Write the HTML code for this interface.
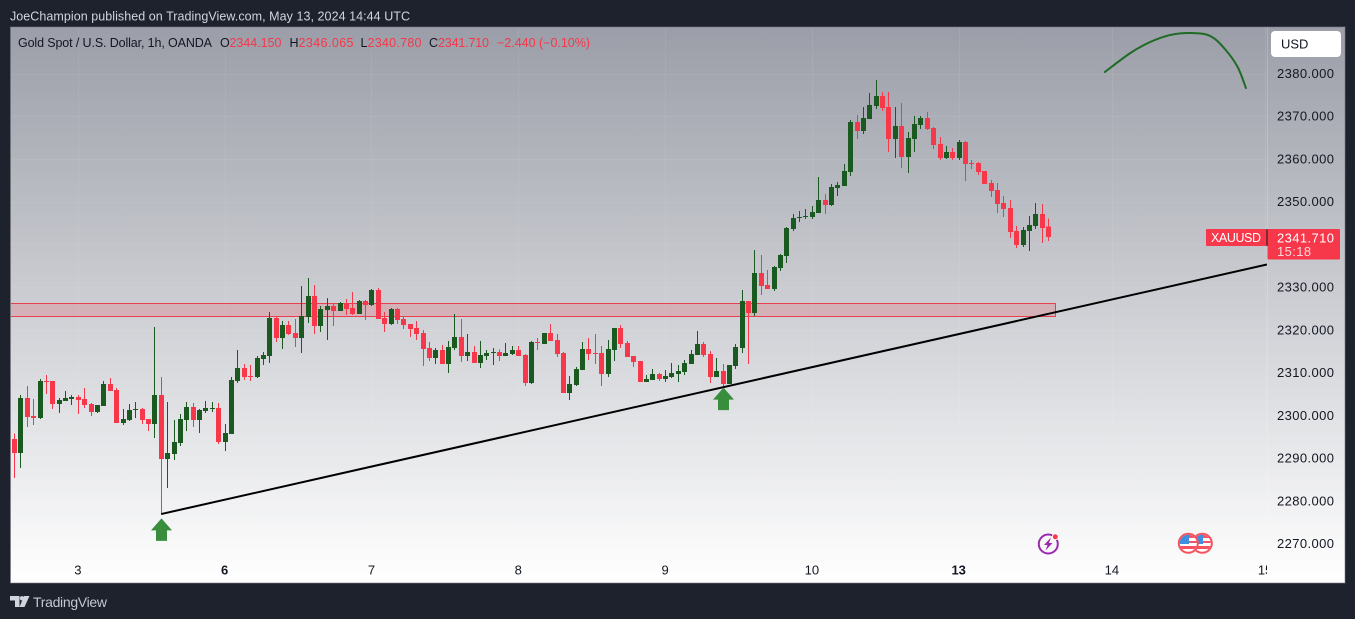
<!DOCTYPE html>
<html lang="en">
<head>
<meta charset="utf-8">
<title>XAUUSD 1h chart</title>
<style>
  html, body { margin: 0; padding: 0; background: #1e222d; }
  body { width: 1355px; height: 619px; overflow: hidden; }
  svg { display: block; font-family: "Liberation Sans", Arial, sans-serif; }
</style>
</head>
<body>
<svg id="chart" xmlns="http://www.w3.org/2000/svg" width="1355" height="619" viewBox="0 0 1355 619">
  <defs>
    <linearGradient id="bgGrad" x1="0" y1="0" x2="0" y2="1">
      <stop offset="0" stop-color="#9b9ea8"/>
      <stop offset="1" stop-color="#ffffff"/>
    </linearGradient>
    <clipPath id="plotClip"><rect x="11" y="27" width="1256" height="532"/></clipPath>
    <clipPath id="axisClip"><rect x="11" y="559" width="1256" height="24"/></clipPath>
    <clipPath id="flagClip1"><circle cx="1188.3" cy="543.3" r="8.5"/></clipPath>
    <clipPath id="flagClip2"><circle cx="1202.3" cy="543.3" r="8.5"/></clipPath>
  </defs>

  <text x="10" y="20.5" font-size="12.5" fill="#d1d4dc" textLength="400" lengthAdjust="spacing">JoeChampion published on TradingView.com, May 13, 2024 14:44 UTC</text>

  <rect x="10.5" y="27" width="1334.5" height="556" fill="url(#bgGrad)" stroke="#787b86" stroke-opacity="0.6" stroke-width="1"/>

  <g id="grid"></g>
  <line x1="1267.5" y1="27" x2="1267.5" y2="583" stroke="#ffffff" stroke-opacity="0.18"/>
  <g id="zone" clip-path="url(#plotClip)"></g>
  <g id="candles" clip-path="url(#plotClip)" shape-rendering="crispEdges"></g>
  <g id="drawings" clip-path="url(#plotClip)"></g>
  <g id="priceAxis"></g>
  <g id="timeAxis" clip-path="url(#axisClip)"></g>

  <g font-size="12.5">
    <text x="18" y="47" fill="#131722" textLength="194" lengthAdjust="spacing">Gold Spot / U.S. Dollar, 1h, OANDA</text>
    <text x="220" y="47" fill="#131722">O</text>
    <text x="229.5" y="47" fill="#f7374a" textLength="52" lengthAdjust="spacing">2344.150</text>
    <text x="289.5" y="47" fill="#131722">H</text>
    <text x="298.5" y="47" fill="#f7374a" textLength="55" lengthAdjust="spacing">2346.065</text>
    <text x="360.5" y="47" fill="#131722">L</text>
    <text x="367.5" y="47" fill="#f7374a" textLength="54" lengthAdjust="spacing">2340.780</text>
    <text x="429" y="47" fill="#131722">C</text>
    <text x="438" y="47" fill="#f7374a" textLength="51" lengthAdjust="spacing">2341.710</text>
    <text x="497" y="47" fill="#f7374a" textLength="93" lengthAdjust="spacing">−2.440 (−0.10%)</text>
  </g>

  <g>
    <rect x="1271" y="31" width="70" height="26" rx="4" fill="#ffffff"/>
    <text x="1281" y="48.5" font-size="13" fill="#131722">USD</text>
  </g>

  <g id="lastPrice"></g>

  <g>
    <circle cx="1048.3" cy="544" r="9.5" fill="none" stroke="#9c27b0" stroke-width="2"/>
    <polygon points="1051,537.5 1044,545 1047.5,545 1045.5,550.5 1052.5,543 1049,543" fill="#9c27b0"/>
    <circle cx="1055.3" cy="536.8" r="3" fill="#f7374a" stroke="#ffffff" stroke-width="1"/>
  </g>

  <g>
    <circle cx="1202.3" cy="543.3" r="9.5" fill="#ffffff" stroke="#f7525f" stroke-width="2"/>
    <g clip-path="url(#flagClip2)">
      <rect x="1192" y="534" width="20" height="4" fill="#f7525f"/>
      <rect x="1192" y="541" width="20" height="2" fill="#f7525f"/>
      <rect x="1192" y="546" width="20" height="3" fill="#f7525f"/>
      <rect x="1192" y="534" width="11" height="10" fill="#3d8fe0"/>
    </g>
  </g>
  <g>
    <circle cx="1188.3" cy="543.3" r="9.5" fill="#ffffff" stroke="#f7525f" stroke-width="2"/>
    <g clip-path="url(#flagClip1)">
      <rect x="1178" y="534" width="20" height="4" fill="#f7525f"/>
      <rect x="1178" y="541" width="20" height="2" fill="#f7525f"/>
      <rect x="1178" y="546" width="20" height="3" fill="#f7525f"/>
      <rect x="1178" y="534" width="11" height="10" fill="#3d8fe0"/>
    </g>
  </g>

  <g>
    <polygon points="10,596 19.5,596 19.5,607 15,607 15,600.5 10,600.5" fill="#d1d4dc"/>
    <circle cx="22" cy="598.3" r="2.2" fill="#d1d4dc"/>
    <polygon points="24,596 29.5,596 24.5,607 19.5,607" fill="#d1d4dc"/>
    <text x="33" y="607" font-size="14" fill="#c4c7cf" textLength="74" lengthAdjust="spacing">TradingView</text>
  </g>
</svg>

<script>
const priceTicks = [2380, 2370, 2360, 2350, 2330, 2320, 2310, 2300, 2290, 2280, 2270];
const gridPrices = [2380, 2370, 2360, 2350, 2340, 2330, 2320, 2310, 2300, 2290, 2280, 2270];
const dayLabels = ["3", "6", "7", "8", "9", "10", "13", "14", "15"];
const dayBars = [10, 33, 56, 79, 102, 125, 148, 172, 196];
const boldDays = ["6", "13"];

const opens = [2294.46,2291.19,2304.06,2299.85,2299.38,2308.04,2308.04,2302.65,2303.36,2303.82,
2304.29,2303.82,2302.65,2300.78,2302.19,2307.34,2305.93,2298.21,2298.91,2301.25,
2301.48,2299.14,2297.97,2304.76,2289.78,2290.95,2293.53,2298.91,2301.95,2298.91,
2301.02,2301.48,2301.72,2293.76,2295.63,2308.04,2311.08,2309.21,2308.97,2313.18,
2313.89,2322.78,2318.1,2321.14,2319.27,2318.1,2323.01,2327.93,2320.91,2324.65,
2325.59,2324.42,2326.29,2325.12,2323.71,2326.76,2325.82,2329.33,2322.78,2321.37,
2324.88,2322.54,2321.37,2320.44,2319.27,2315.76,2313.42,2315.29,2312.01,2315.76,
2318.33,2313.89,2314.82,2312.25,2313.89,2314.59,2314.82,2313.89,2314.35,2315.29,
2314.12,2307.57,2317.16,2316.69,2319.27,2317.63,2314.59,2305.23,2307.1,2310.61,
2315.52,2314.59,2314.59,2309.67,2315.29,2320.44,2316.93,2313.89,2312.72,2307.8,
2308.27,2309.67,2308.5,2308.97,2309.67,2310.14,2312.01,2314.12,2316.69,2314.35,
2308.97,2310.38,2307.33,2311.55,2315.77,2326.77,2323.96,2333.32,2330.51,2329.57,
2334.49,2337.3,2343.61,2346.19,2346.42,2346.42,2347.36,2350.4,2349.23,2353.21,
2353.68,2356.95,2368.65,2366.55,2369.35,2372.39,2374.74,2372.16,2364.67,2367.72,
2360.46,2364.67,2367.95,2369.59,2367.25,2363.5,2360.23,2361.63,2360.23,2363.97,
2359.06,2359.06,2357.19,2354.38,2352.74,2349.7,2348.53,2343.15,2339.87,2343.15,
2344.32,2347.12,2344.15];

const highs = [2295.79,2304.76,2306.87,2303.82,2308.5,2309.44,2308.04,2304.06,2305.7,2304.76,
2304.76,2306.4,2302.89,2302.42,2308.04,2308.74,2306.4,2301.48,2302.65,2303.12,
2301.72,2299.14,2320.67,2308.97,2303.12,2298.91,2300.31,2303.12,2302.89,2301.48,
2303.36,2303.12,2302.89,2297.97,2308.97,2315.29,2312.01,2311.78,2313.89,2314.82,
2324.18,2323.25,2322.08,2322.08,2322.54,2330.27,2332.14,2330.5,2325.59,2327.46,
2326.05,2326.52,2327.22,2328.86,2326.99,2326.99,2329.56,2329.8,2324.18,2325.12,
2325.12,2323.01,2321.37,2322.08,2319.97,2317.16,2315.76,2316.46,2317.4,2323.71,
2322.54,2319.03,2316.23,2317.4,2315.29,2315.76,2315.45,2316.93,2316.23,2316.23,
2314.35,2317.4,2318.1,2319.27,2321.37,2319.03,2314.82,2309.21,2311.31,2317.16,
2318.1,2319.03,2316.23,2317.63,2320.44,2321.14,2317.4,2313.89,2312.72,2309.44,
2310.84,2309.91,2310.61,2312.25,2311.78,2312.95,2315.29,2319.74,2317.16,2315.06,
2313.42,2312.01,2311.78,2316.69,2329.34,2326.77,2338.7,2337.53,2334.02,2334.96,
2337.76,2344.08,2347.12,2347.83,2348.29,2349,2355.78,2351.8,2354.14,2354.61,
2358.82,2369.12,2370.29,2372.16,2375.44,2378.48,2375.67,2375.67,2372.16,2373.1,
2366.31,2370.06,2370.06,2370.99,2367.48,2365.14,2363.04,2362.57,2364.44,2364.21,
2359.76,2359.29,2357.19,2355.08,2354.38,2351.34,2350.4,2344.32,2344.08,2346.66,
2349.7,2349.46,2346.065];

const lows = [2285.34,2287.68,2297.27,2297.74,2299.14,2304.99,2301.48,2300.55,2303.36,2302.42,
2300.31,2301.72,2299.85,2300.55,2302.19,2305.7,2298.21,2297.74,2298.68,2299.38,
2297.97,2296.34,2294.7,2276.91,2283,2289.55,2292.83,2296.34,2297.27,2295.87,
2300.55,2300.78,2293.29,2291.66,2295.63,2307.57,2308.27,2308.04,2308.74,2311.78,
2312.25,2317.16,2315.52,2318.8,2315.99,2314.59,2321.61,2319.03,2319.5,2317.63,
2320.91,2324.42,2323.48,2323.48,2323.71,2322.31,2325.59,2322.54,2319.5,2321.14,
2321.37,2320.2,2318.33,2317.63,2311.55,2312.72,2312.01,2312.01,2309.91,2315.29,
2312.48,2312.72,2312.25,2311.08,2312.95,2311.78,2312.72,2313.89,2314.12,2313.89,
2306.87,2307.33,2315.29,2316.69,2317.4,2313.65,2305.23,2303.59,2306.87,2310.61,
2312.95,2312.01,2306.87,2308.97,2312.72,2315.76,2313.65,2311.31,2307.8,2307.8,
2308.27,2308.03,2307.8,2308.74,2307.8,2309.44,2312.01,2314.12,2313.65,2307.57,
2308.97,2306.87,2307.33,2310.84,2314.6,2312.02,2323.26,2328.17,2329.57,2329.11,
2333.79,2335.66,2343.15,2345.25,2345.95,2345.95,2347.36,2347.12,2348.99,2351.34,
2353.68,2356.02,2364.67,2365.84,2369.35,2371.69,2371.23,2361.63,2360.23,2357.89,
2356.72,2361.63,2367.01,2366.78,2362.33,2359.76,2360,2359.76,2359.76,2354.85,
2357.65,2356.25,2354.14,2351.1,2347.36,2346.42,2341.51,2339.17,2339.4,2338.47,
2343.61,2340.34,2340.78];

const closes = [2291.19,2304.06,2299.61,2299.38,2308.04,2307.8,2302.65,2303.59,2304.06,2304.29,
2303.59,2302.42,2300.78,2302.42,2307.34,2305.7,2298.21,2299.14,2301.25,2301.48,
2298.91,2297.97,2304.76,2289.78,2291.19,2293.76,2299.14,2301.95,2298.91,2301.25,
2301.72,2301.72,2293.76,2295.87,2308.27,2311.08,2308.97,2308.97,2313.42,2314.12,
2322.78,2318.1,2321.14,2319.03,2318.1,2323.25,2327.93,2320.91,2324.88,2325.59,
2324.42,2326.29,2324.88,2323.71,2326.76,2325.82,2329.33,2322.54,2321.37,2324.88,
2322.31,2321.14,2320.2,2319.03,2315.52,2313.42,2315.29,2312.01,2315.99,2318.33,
2313.89,2314.82,2312.25,2314.12,2314.59,2314.82,2313.89,2314.59,2315.29,2313.89,
2307.57,2317.16,2316.93,2319.27,2317.4,2314.35,2305.23,2307.33,2310.84,2315.52,
2314.35,2314.35,2309.67,2315.52,2320.44,2316.69,2313.65,2312.48,2307.8,2308.5,
2309.67,2308.5,2309.2,2309.91,2310.38,2312.25,2314.35,2316.69,2314.12,2308.97,
2310.38,2307.33,2311.78,2315.99,2326.77,2323.96,2333.32,2330.28,2329.57,2334.72,
2337.53,2343.85,2346.19,2346.42,2346.66,2347.6,2350.4,2349.23,2353.44,2353.91,
2357.19,2368.65,2366.55,2369.59,2372.63,2374.74,2371.93,2364.67,2367.72,2360.46,
2364.91,2368.18,2369.59,2367.01,2363.27,2360.23,2361.63,2360.23,2363.97,2358.82,
2358.82,2356.95,2354.14,2352.51,2349.46,2348.29,2342.91,2339.87,2343.38,2344.55,
2347.12,2343.85,2341.71];

const trendBars = [23.05, 196.3];
const trendPrices = [2276.9, 2335.3];
const zoneBars = [-1, 163.2];
const zonePrices = [2326.17, 2323.13];
const curveBars = [170.9, 174.9, 178, 181.1, 184.3, 187.4, 189.7, 191.7, 193];
const curvePrices = [2380.35, 2384.8, 2387.37, 2389, 2389.48, 2388.78, 2385.73, 2381.52, 2376.6];
const arrowBars = [23, 111];
const arrowPrices = [2275.9, 2306.5];
const instrumentName = "XAUUSD";
const countdown = "15:18";

const SVG_NS = "http://www.w3.org/2000/svg";
function xOf(bar) { return 14 + bar * 6.383; }
function yOf(price) { return 73.5 + (2380 - price) * 4.273; }
function make(tag, parent) {
  const el = document.createElementNS(SVG_NS, tag);
  parent.appendChild(el);
  return el;
}
function setAll(el, props) {
  for (const k in props) el.setAttribute(k, props[k]);
}

/* grid */
const gridLayer = document.getElementById("grid");
gridPrices.forEach(function (p) {
  const ln = make("line", gridLayer);
  
  
  setAll(ln, { x1: 11, x2: 1267, y1: Math.round(yOf(p)) + 0.5, y2: Math.round(yOf(p)) + 0.5, stroke: "#ffffff", "stroke-opacity": 0.07 });
});
dayBars.forEach(function (b) {
  const ln = make("line", gridLayer);
  
  
  setAll(ln, { x1: Math.round(xOf(b)) + 0.5, x2: Math.round(xOf(b)) + 0.5, y1: 27, y2: 559, stroke: "#ffffff", "stroke-opacity": 0.07 });
});

/* zone */
const zoneLayer = document.getElementById("zone");
const zoneRect = make("rect", zoneLayer);


setAll(zoneRect, {
  x: xOf(zoneBars[0]), width: xOf(zoneBars[1]) - xOf(zoneBars[0]),
  y: yOf(zonePrices[0]), height: yOf(zonePrices[1]) - yOf(zonePrices[0]),
  fill: "#f23645", "fill-opacity": 0.2, stroke: "#e8404f", "stroke-width": 1, "shape-rendering": "crispEdges"
});

/* candles */
const candleLayer = document.getElementById("candles");
closes.forEach(function (c, i) {
  const o = opens[i];
  const color = c < o ? "#f7374a" : "#1a5a20";
  const cx = Math.round(xOf(i));
  const wick = make("rect", candleLayer);
  
  
  setAll(wick, { x: cx, width: 1, y: yOf(highs[i]), height: yOf(lows[i]) - yOf(highs[i]), fill: color });
  const top = yOf(Math.max(o, c));
  const h = Math.max(1, yOf(Math.min(o, c)) - top);
  const body = make("rect", candleLayer);
  
  
  setAll(body, { x: cx - 2, width: 5, y: top, height: h, fill: color });
});

/* drawings */
const drawLayer = document.getElementById("drawings");
const trend = make("line", drawLayer);


setAll(trend, {
  x1: xOf(trendBars[0]), y1: yOf(trendPrices[0]),
  x2: xOf(trendBars[1]), y2: yOf(trendPrices[1]),
  stroke: "#000000", "stroke-width": 2
});

/* smooth curve through the points (Catmull-Rom to Bezier) */
const curvePts = curveBars.map(function (b, i) { return [xOf(b), yOf(curvePrices[i])]; });
let curveD = "M" + curvePts[0][0] + " " + curvePts[0][1];
for (let i = 0; i < curvePts.length - 1; i++) {
  const p0 = curvePts[Math.max(0, i - 1)];
  const p1 = curvePts[i];
  const p2 = curvePts[i + 1];
  const p3 = curvePts[Math.min(curvePts.length - 1, i + 2)];
  curveD += " C" + (p1[0] + (p2[0] - p0[0]) / 6) + " " + (p1[1] + (p2[1] - p0[1]) / 6) +
            " " + (p2[0] - (p3[0] - p1[0]) / 6) + " " + (p2[1] - (p3[1] - p1[1]) / 6) +
            " " + p2[0] + " " + p2[1];
}
const curve = make("path", drawLayer);


setAll(curve, { d: curveD, fill: "none", stroke: "#1f6a26", "stroke-width": 2, "stroke-linecap": "round" });

arrowBars.forEach(function (b, i) {
  const cx = Math.round(xOf(b)) + 0.5;
  const ty = yOf(arrowPrices[i]);
  const pts = [[cx, ty], [cx + 10.5, ty + 12], [cx + 5.5, ty + 12], [cx + 5.5, ty + 22.5],
               [cx - 5.5, ty + 22.5], [cx - 5.5, ty + 12], [cx - 10.5, ty + 12]];
  const arrow = make("polygon", drawLayer);
  
  
  setAll(arrow, { points: pts.map(function (p) { return p.join(","); }).join(" "), fill: "#388e3c" });
});

/* price axis */
const priceLayer = document.getElementById("priceAxis");
priceTicks.forEach(function (p) {
  const t = make("text", priceLayer);
  
  
  setAll(t, { x: 1277, y: yOf(p) + 4.5, "font-size": 13, "letter-spacing": 0.4, fill: "#131722" });
  t.textContent = p.toFixed(3);
});

/* time axis */
const timeLayer = document.getElementById("timeAxis");
dayLabels.forEach(function (d, i) {
  const t = make("text", timeLayer);
  
  
  setAll(t, { x: xOf(dayBars[i]), y: 574.5, "font-size": 13, "text-anchor": "middle", fill: "#131722" });
  if (boldDays.indexOf(d) >= 0) t.setAttribute("font-weight", "bold");
  t.textContent = d;
});

/* last price tag */
const tagLayer = document.getElementById("lastPrice");
const lastClose = closes[closes.length - 1];
const tagTop = Math.round(yOf(lastClose)) - 8;
const nameTag = make("rect", tagLayer);


setAll(nameTag, { x: 1206, y: tagTop, width: 60.5, height: 17, rx: 1, fill: "#f7374a" });
const nameText = make("text", tagLayer);


setAll(nameText, { x: 1211, y: tagTop + 13, "font-size": 12.5, fill: "#ffffff", textLength: 50, lengthAdjust: "spacing" });
nameText.textContent = instrumentName;
const priceTag = make("rect", tagLayer);


setAll(priceTag, { x: 1267.5, y: tagTop, width: 72.5, height: 30.5, rx: 1, fill: "#f7374a" });
const priceText = make("text", tagLayer);


setAll(priceText, { x: 1277, y: tagTop + 13.5, "font-size": 13, "letter-spacing": 0.4, fill: "#ffffff" });
priceText.textContent = lastClose.toFixed(3);
const countText = make("text", tagLayer);


setAll(countText, { x: 1277, y: tagTop + 27, "font-size": 13, "letter-spacing": 0.4, fill: "#fdd7db" });
countText.textContent = countdown;
const tagDivider = make("rect", tagLayer);


setAll(tagDivider, { x: 1266.5, y: tagTop, width: 1, height: 17, fill: "#131722" });
</script>
</body>
</html>
